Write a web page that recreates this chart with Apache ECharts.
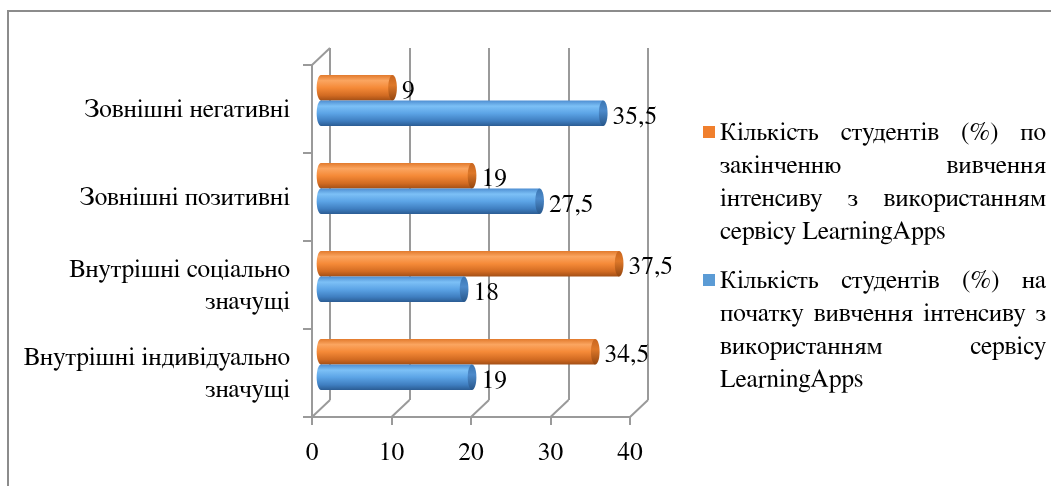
<!DOCTYPE html>
<html>
<head>
<meta charset="utf-8">
<script src="https://cdn.jsdelivr.net/npm/echarts@6/dist/echarts.min.js"></script>
<style>
  html, body { margin: 0; padding: 0; background: #fff; }
  #chart { width: 1051px; height: 486px; }
</style>
</head>
<body>
<div id="chart"></div>
<script>
// Categories, top to bottom
const categories = [
  'Зовнішні негативні',
  'Зовнішні позитивні',
  'Внутрішні соціально\nзначущі',
  'Внутрішні індивідуально\nзначущі'
];
// Share of students (%) after the course
const afterValues = [9, 19, 37.5, 34.5];
// Share of students (%) at the start of the course
const beforeValues = [35.5, 27.5, 18, 19];

const afterLegendLines = [
  'Кількість студентів (%) по',
  'закінченню вивчення',
  'інтенсиву з використанням',
  'сервісу LearningApps'
];
const beforeLegendLines = [
  'Кількість студентів (%) на',
  'початку вивчення інтенсиву з',
  'використанням сервісу',
  'LearningApps'
];

const xMin = 0, xMax = 40, xStep = 10;
const xTicks = [0, 10, 20, 30, 40];

const FONT_FAMILY = 'FreeSerif';
const FONT_SIZE = 25.5;
const LINE_COLOR = '#9a9a9a';

// 3D box: front plane, mid plane (bars) and back wall, offset in depth
const front = { left: 312, top: 65, width: 318, height: 352 };
const DX = 18, DY = 17;
const mid = { left: front.left + DX / 2, top: front.top - DY / 2, width: front.width, height: front.height };
const back = { left: front.left + DX, top: front.top - DY, width: front.width, height: front.height };

const orange = {
  body: [
    { offset: 0, color: '#E27A2C' },
    { offset: 0.22, color: '#FBA560' },
    { offset: 0.5, color: '#F58A38' },
    { offset: 0.8, color: '#D26B22' },
    { offset: 1, color: '#A34F16' }
  ],
  cap: [
    { offset: 0, color: '#C8661F' },
    { offset: 0.4, color: '#DE7829' },
    { offset: 1, color: '#94460F' }
  ],
  swatch: '#F07F2D'
};
const blue = {
  body: [
    { offset: 0, color: '#4E8ED2' },
    { offset: 0.22, color: '#7CC0F6' },
    { offset: 0.5, color: '#5CA4E6' },
    { offset: 0.8, color: '#3F7EC0' },
    { offset: 1, color: '#2B5C93' }
  ],
  cap: [
    { offset: 0, color: '#3B76B3' },
    { offset: 0.4, color: '#4D8ACA' },
    { offset: 1, color: '#27568A' }
  ],
  swatch: '#5B9BD5'
};

function fmt(v) {
  return String(v).replace('.', ',');
}

// Cylinder bar; side -1 sits above the category centre, +1 below
function cylinder(colors, side) {
  return function (params, api) {
    const v = api.value(0);
    const c = api.value(1);
    const p0 = api.coord([0, c]);
    const p1 = api.coord([v, c]);
    const band = api.size([0, 1])[1];
    const h = band * 0.29;
    const y0 = side < 0 ? p0[1] - h : p0[1];
    const ry = h / 2;
    const rx = h * 0.17;
    const cy = y0 + ry;
    const bodyFill = new echarts.graphic.LinearGradient(0, 0, 0, 1, colors.body);
    const capFill = new echarts.graphic.LinearGradient(0, 0, 0, 1, colors.cap);
    return {
      type: 'group',
      children: [
        { type: 'ellipse', shape: { cx: p0[0], cy: cy, rx: rx, ry: ry }, style: { fill: bodyFill } },
        { type: 'rect', shape: { x: p0[0], y: y0, width: p1[0] - p0[0], height: h }, style: { fill: bodyFill } },
        { type: 'ellipse', shape: { cx: p1[0], cy: cy, rx: rx, ry: ry }, style: { fill: capFill } },
        {
          type: 'text',
          style: {
            text: fmt(v), x: p1[0] + rx + 5, y: cy + 3,
            fill: '#000', fontSize: FONT_SIZE, fontFamily: FONT_FAMILY,
            align: 'left', verticalAlign: 'middle'
          }
        }
      ]
    };
  };
}

// Floor lines joining the front ticks to the back wall, plus the top edge of the side wall
function floorLines(params, api) {
  const cs = params.coordSys;
  const v = api.value(0);
  const x = api.coord([v, 0])[0];
  const yb = cs.y + cs.height;
  const line = { stroke: LINE_COLOR, lineWidth: 2 };
  const children = [
    { type: 'line', shape: { x1: x, y1: yb, x2: x + DX, y2: yb - DY }, style: line }
  ];
  if (v === xMin) {
    children.push({ type: 'line', shape: { x1: cs.x, y1: cs.y, x2: cs.x + DX, y2: cs.y - DY }, style: line });
  }
  return { type: 'group', children: children };
}

// Justified legend text
const TEXT_LEFT = 720, TEXT_RIGHT = 1046, LINE_H = 33;
const measureCtx = document.createElement('canvas').getContext('2d');
measureCtx.font = FONT_SIZE + 'px ' + FONT_FAMILY;

function legendBlock(lines, firstBaseline, swatch) {
  const els = [];
  lines.forEach(function (line, i) {
    const yMid = firstBaseline + i * LINE_H - 8;
    const words = line.split(' ');
    const justify = i < lines.length - 1 && words.length > 1;
    const textStyle = { fill: '#000', fontSize: FONT_SIZE, fontFamily: FONT_FAMILY, verticalAlign: 'middle', align: 'left' };
    if (!justify) {
      els.push({ type: 'text', x: TEXT_LEFT, y: yMid, silent: true, style: Object.assign({ text: line }, textStyle) });
      return;
    }
    const widths = words.map(function (w) { return measureCtx.measureText(w).width; });
    const total = widths.reduce(function (a, b) { return a + b; }, 0);
    const gap = (TEXT_RIGHT - TEXT_LEFT - total) / (words.length - 1);
    let x = TEXT_LEFT;
    words.forEach(function (w, k) {
      els.push({ type: 'text', x: x, y: yMid, silent: true, style: Object.assign({ text: w }, textStyle) });
      x += widths[k] + gap;
    });
  });
  els.push({
    type: 'rect', silent: true,
    shape: { x: 703, y: firstBaseline - 8 - 6, width: 12, height: 12 },
    style: { fill: swatch }
  });
  return els;
}

const hiddenValueAxis = function (gridIndex) {
  return {
    type: 'value', gridIndex: gridIndex, min: xMin, max: xMax, interval: xStep,
    axisLine: { show: false }, axisTick: { show: false }, axisLabel: { show: false }, splitLine: { show: false }
  };
};
const hiddenCategoryAxis = function (gridIndex) {
  return {
    type: 'category', gridIndex: gridIndex, data: categories, inverse: true,
    axisLine: { show: false }, axisTick: { show: false }, axisLabel: { show: false }, splitLine: { show: false }
  };
};

const backX = hiddenValueAxis(1);
backX.splitLine = { show: true, lineStyle: { color: LINE_COLOR, width: 2 } };

const chart = echarts.init(document.getElementById('chart'), null, { renderer: 'canvas' });
chart.setOption({
  backgroundColor: '#fff',
  animation: false,
  textStyle: { fontFamily: FONT_FAMILY },
  grid: [
    Object.assign({ containLabel: false }, front),
    Object.assign({ containLabel: false }, back),
    Object.assign({ containLabel: false }, mid)
  ],
  xAxis: [
    {
      type: 'value', gridIndex: 0, min: xMin, max: xMax, interval: xStep,
      axisLine: { show: true, lineStyle: { color: LINE_COLOR, width: 2 } },
      axisTick: { show: true, length: 8, inside: false, lineStyle: { color: LINE_COLOR, width: 2 } },
      axisLabel: { color: '#000', fontSize: FONT_SIZE, fontFamily: FONT_FAMILY, margin: 22, formatter: fmt },
      splitLine: { show: false }
    },
    backX,
    hiddenValueAxis(2)
  ],
  yAxis: [
    {
      type: 'category', gridIndex: 0, data: categories, inverse: true,
      axisLine: { show: true, lineStyle: { color: LINE_COLOR, width: 2 } },
      axisTick: { show: true, length: 9, inside: false, lineStyle: { color: LINE_COLOR, width: 2 } },
      axisLabel: {
        color: '#000', fontSize: FONT_SIZE, fontFamily: FONT_FAMILY, lineHeight: 32,
        margin: 22, align: 'right', padding: [8, 0, 0, 0]
      },
      splitLine: { show: false }
    },
    hiddenCategoryAxis(1),
    hiddenCategoryAxis(2)
  ],
  series: [
    {
      type: 'custom', name: 'floor', xAxisIndex: 0, yAxisIndex: 0, silent: true,
      data: xTicks.map(function (v) { return [v, 0]; }),
      encode: { x: 0, y: 1 },
      renderItem: floorLines
    },
    {
      type: 'custom', name: afterLegendLines.join(' '), xAxisIndex: 2, yAxisIndex: 2,
      data: afterValues.map(function (v, i) { return [v, i]; }),
      encode: { x: 0, y: 1 },
      renderItem: cylinder(orange, -1)
    },
    {
      type: 'custom', name: beforeLegendLines.join(' '), xAxisIndex: 2, yAxisIndex: 2,
      data: beforeValues.map(function (v, i) { return [v, i]; }),
      encode: { x: 0, y: 1 },
      renderItem: cylinder(blue, 1)
    }
  ],
  graphic: [
    {
      type: 'rect', silent: true,
      shape: { x: 8, y: 11, width: 1100, height: 600 },
      style: { fill: 'none', stroke: '#8c8c8c', lineWidth: 2 }
    }
  ].concat(
    legendBlock(afterLegendLines, 140, orange.swatch),
    legendBlock(beforeLegendLines, 288, blue.swatch)
  )
});
</script>
</body>
</html>
